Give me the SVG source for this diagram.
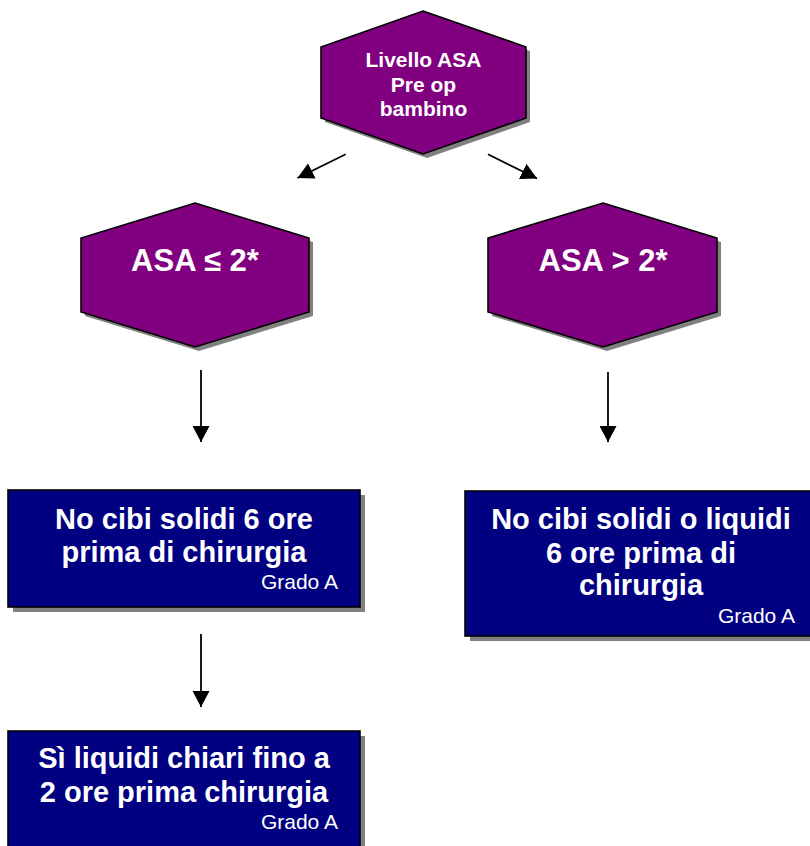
<svg xmlns="http://www.w3.org/2000/svg" width="810" height="846" viewBox="0 0 810 846">
<defs>
<marker id="ah" markerUnits="userSpaceOnUse" markerWidth="17" markerHeight="17" refX="16" refY="8.5" orient="auto">
<path d="M0,0 L16,8.5 L0,17 z" fill="#000"/>
</marker>
</defs>
<style>
.hex{fill:#800080;stroke:#000;stroke-width:1.6}
.box{fill:#000080;stroke:#000;stroke-width:1.6}
.sh{fill:#808080;stroke:none}
.t{font-family:"Liberation Sans",Arial,sans-serif;font-weight:bold;fill:#fff;text-anchor:middle}
.g{font-family:"Liberation Sans",Arial,sans-serif;font-size:21px;fill:#fff;text-anchor:end}
.c{stroke:#000;stroke-width:1.8;fill:none;marker-end:url(#ah)}
</style>
<rect width="810" height="846" fill="#fff"/>
<g id="livello">
<polygon class="sh" transform="translate(4,4)" points="423,11 526,47 526,118 423,154 321,118 321,47"/>
<polygon class="hex" points="423,11 526,47 526,118 423,154 321,118 321,47"/>
<text class="t" font-size="21" x="423.5" y="67">Livello ASA</text>
<text class="t" font-size="21" x="423.5" y="91.5">Pre op</text>
<text class="t" font-size="21" x="423.5" y="115.5">bambino</text>
</g>
<g id="asa-le2">
<polygon class="sh" transform="translate(4,4)" points="195,203 309,238 309,312 195,347 81,312 81,238"/>
<polygon class="hex" points="195,203 309,238 309,312 195,347 81,312 81,238"/>
<text class="t" font-size="31" x="195" y="271">ASA ≤ 2*</text>
</g>
<g id="asa-gt2">
<polygon class="sh" transform="translate(4,4)" points="603,203 717,238 717,312 603,347 488,312 488,238"/>
<polygon class="hex" points="603,203 717,238 717,312 603,347 488,312 488,238"/>
<text class="t" font-size="31" x="603" y="271">ASA &gt; 2*</text>
</g>
<g id="no-solidi">
<rect class="sh" x="13" y="495" width="352" height="117"/>
<rect class="box" x="8" y="490" width="352" height="117"/>
<text class="t" font-size="29" x="184" y="529">No cibi solidi 6 ore</text>
<text class="t" font-size="29" x="184" y="562">prima di chirurgia</text>
<text class="g" x="338" y="588.5">Grado A</text>
</g>
<g id="no-solidi-liquidi">
<rect class="sh" x="470" y="496" width="352" height="145"/>
<rect class="box" x="465" y="491" width="352" height="145"/>
<text class="t" font-size="29" x="641" y="529">No cibi solidi o liquidi</text>
<text class="t" font-size="29" x="641" y="563">6 ore prima di</text>
<text class="t" font-size="29" x="641" y="595">chirurgia</text>
<text class="g" x="795" y="622.5">Grado A</text>
</g>
<g id="liquidi-chiari">
<rect class="sh" x="13" y="736" width="352" height="117"/>
<rect class="box" x="8" y="731" width="352" height="117"/>
<text class="t" font-size="29" x="184" y="768">Sì liquidi chiari fino a</text>
<text class="t" font-size="29" x="184" y="801.5">2 ore prima chirurgia</text>
<text class="g" x="338" y="828.5">Grado A</text>
</g>
<g id="connectors">
<line class="c" x1="345.7" y1="154.3" x2="297.5" y2="178"/>
<line class="c" x1="488" y1="154.3" x2="537" y2="178.5"/>
<line class="c" x1="201" y1="370" x2="201" y2="442"/>
<line class="c" x1="608" y1="372" x2="608" y2="442"/>
<line class="c" x1="201" y1="634" x2="201" y2="707"/>
</g>
</svg>
